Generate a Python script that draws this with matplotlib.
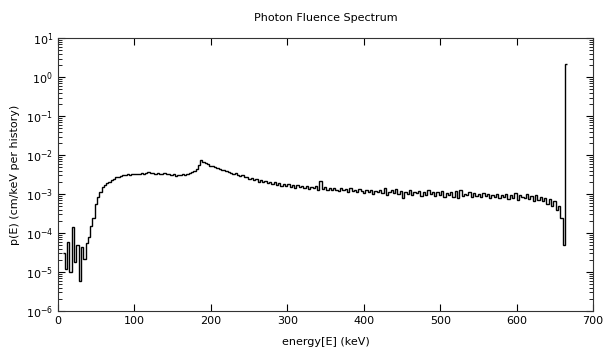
"""
Photon fluence spectrum (step histogram, log y)
"""

import numpy as np
import matplotlib.pyplot as plt
from matplotlib.ticker import LogLocator, NullFormatter

title = 'Photon Fluence Spectrum'
x_label = 'energy[E] (keV)'
y_label = 'p(E) (cm/keV per history)'

# energy bins: first edge and width (keV)
e_start = 6
e_width = 3

# fluence per bin, in units of 1e-3 cm/keV per history
fluence_milli = [
    0.030, 0.012, 0.060, 0.010, 0.140, 0.018, 0.050, 0.006, 0.045, 0.022,
    0.055, 0.080, 0.150, 0.250, 0.550, 0.850, 1.10, 1.50, 1.70, 1.90,
    2.10, 2.30, 2.50, 2.70, 2.80, 2.95, 3.05, 3.10, 3.20, 3.15,
    3.25, 3.30, 3.20, 3.35, 3.40, 3.30, 3.50, 3.70, 3.40, 3.55,
    3.30, 3.45, 3.35, 3.25, 3.40, 3.20, 3.35, 3.10, 3.25, 2.90,
    3.15, 3.00, 3.20, 3.05, 3.30, 3.40, 3.60, 3.90, 4.40, 5.60,
    7.40, 6.80, 6.20, 5.90, 5.40, 5.20, 4.90, 4.70, 4.50, 4.20,
    4.10, 3.80, 3.70, 3.50, 3.20, 3.40, 3.00, 2.90, 3.10, 2.70,
    2.80, 2.50, 2.60, 2.30, 2.40, 2.10, 2.30, 2.00, 2.20, 1.95,
    2.10, 1.80, 2.00, 1.75, 1.90, 1.65, 1.85, 1.60, 1.80, 1.55,
    1.70, 1.45, 1.75, 1.50, 1.65, 1.40, 1.60, 1.35, 1.55, 1.40,
    1.60, 1.30, 2.20, 1.35, 1.50, 1.30, 1.45, 1.25, 1.40, 1.30,
    1.20, 1.40, 1.25, 1.35, 1.15, 1.40, 1.20, 1.30, 1.10, 1.35,
    1.20, 1.05, 1.30, 1.15, 1.25, 1.00, 1.20, 1.10, 1.30, 1.05,
    1.45, 0.95, 1.15, 1.25, 1.05, 1.35, 1.00, 1.20, 0.80, 1.10,
    1.00, 1.30, 0.95, 1.15, 1.05, 1.20, 0.90, 1.10, 0.95, 1.25,
    1.00, 1.10, 0.90, 1.15, 0.95, 1.20, 0.85, 1.05, 0.95, 1.15,
    0.85, 1.20, 0.80, 1.25, 0.90, 1.00, 0.95, 1.10, 0.85, 1.05,
    0.90, 1.00, 0.85, 1.05, 0.90, 1.00, 0.80, 0.95, 0.85, 1.00,
    0.80, 0.95, 0.85, 1.00, 0.75, 0.95, 0.80, 1.05, 0.70, 0.95,
    0.85, 0.80, 1.00, 0.75, 0.90, 0.65, 0.95, 0.70, 0.85, 0.65,
    0.80, 0.55, 0.75, 0.50, 0.65, 0.40, 0.50, 0.25, 0.05, 2200.0,
]

x_ticks = [0, 100, 200, 300, 400, 500, 600, 700]

values = np.array(fluence_milli) * 1e-3
edges = e_start + e_width * np.arange(len(values) + 1)

fig = plt.figure(figsize=(6.06, 3.6), dpi=100)
ax = fig.add_axes([0.0957, 0.136, 0.883, 0.758])

ax.stairs(values, edges, baseline=None, color='black', linewidth=1.0)

ax.set_yscale('log')
ax.set_xlim(0, 700)
ax.set_ylim(1e-6, 1e1)
ax.set_xticks(x_ticks)
ax.yaxis.set_major_locator(LogLocator(base=10, numticks=20))
ax.yaxis.set_minor_locator(LogLocator(base=10, subs=np.arange(2, 10), numticks=20))
ax.yaxis.set_minor_formatter(NullFormatter())

ax.tick_params(which='both', direction='in', top=True, right=True,
               labelsize=8, colors='black')
ax.tick_params(which='major', length=5, width=0.8)
ax.tick_params(which='minor', length=3, width=0.6)

for s in ax.spines.values():
    s.set_linewidth(0.8)
    s.set_color('#333333')

ax.set_title(title, fontsize=8, pad=12)
ax.set_xlabel(x_label, fontsize=8, labelpad=8)
ax.set_ylabel(y_label, fontsize=8, labelpad=4)

fig.savefig('out.png', dpi=100)
